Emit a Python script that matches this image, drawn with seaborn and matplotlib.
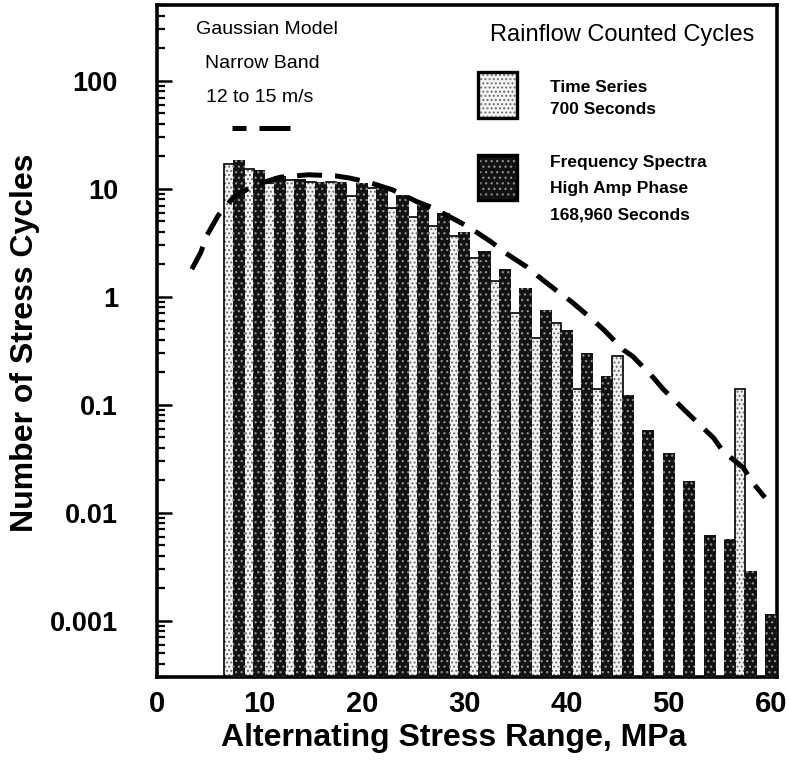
import numpy as np
import pandas as pd
import matplotlib
matplotlib.use("Agg")
import matplotlib.pyplot as plt
import seaborn as sns
from matplotlib.patches import Rectangle

# ---------------- data ----------------
stress_bins = [8, 10, 12, 14, 16, 18, 20, 22, 24, 26, 28, 30, 32, 34,
               36, 38, 40, 42, 44, 46, 48, 50, 52, 54, 56, 58, 60]
time_series_cycles = [17.0, 15.2, 11.3, 12.1, 11.5, 11.6, 8.6, 10.1, 6.6, 5.5,
                      4.5, 3.67, 2.28, 1.41, 0.706, 0.414, 0.57, 0.14, 0.14, 0.28,
                      0, 0, 0, 0, 0, 0.14, 0]
freq_spectra_cycles = [18.6, 14.8, 13.2, 12.3, 11.5, 11.5, 11.3, 10.4, 8.8, 7.1,
                       6.0, 4.0, 2.67, 1.80, 1.20, 0.758, 0.494, 0.301, 0.186, 0.124,
                       0.0587, 0.0357, 0.0197, 0.00625, 0.0057, 0.0029, 0.00114]
model_stress = [3.4, 4.3, 4.8, 6.0, 7.5, 9.5, 12.0, 14.8, 17.4, 18.8, 20.8, 23.0,
                25.4, 26.9, 29.1, 30.5, 32.7, 33.9, 36.1, 37.2, 39.3, 40.5, 42.6,
                43.7, 45.6, 46.5, 48.5, 49.5, 51.5, 52.7, 54.4, 55.3, 57.3, 58.2, 59.4]
model_cycles = [1.8, 2.6, 3.6, 5.7, 8.4, 10.8, 12.8, 13.5, 13.2, 12.6, 11.4, 9.8,
                7.6, 6.7, 5.2, 4.4, 3.2, 2.6, 1.9, 1.56, 1.09, 0.90, 0.61,
                0.49, 0.32, 0.28, 0.178, 0.138, 0.09, 0.070, 0.049, 0.037, 0.026, 0.019, 0.0138]
x_ticks = [0, 10, 20, 30, 40, 50, 60]
y_ticks = [0.001, 0.01, 0.1, 1, 10, 100]
y_tick_labels = ["0.001", "0.01", "0.1", "1", "10", "100"]

# ---------------- style ----------------
sns.set_theme(style="white")
plt.rcParams["font.family"] = ["Liberation Sans", "DejaVu Sans"]
plt.rcParams["hatch.linewidth"] = 0.9

W, H = 790, 778
fig = plt.figure(figsize=(W / 100, H / 100), dpi=100)
L, R, T, B = 157, 777, 5, 677
ax = fig.add_axes([L / W, 1 - B / H, (R - L) / W, (B - T) / H])
ax.set_yscale("log")

# time series bars (light stipple), left of each bin
df_ts = pd.DataFrame({"stress": stress_bins, "cycles": time_series_cycles})
df_ts = df_ts[df_ts["cycles"] > 0].copy()
df_ts["pos"] = df_ts["stress"] - 1.0

n0 = len(ax.patches)
sns.barplot(data=df_ts, x="pos", y="cycles", native_scale=True, width=0.5,
            color="#f3f3f3", ax=ax, errorbar=None, zorder=2)
for p in ax.patches[n0:]:
    p.set_hatch("....")
    p.set_edgecolor("#6a6a6a")
    p.set_linewidth(0)
    p.set_facecolor("#f3f3f3")
n1 = len(ax.patches)
sns.barplot(data=df_ts, x="pos", y="cycles", native_scale=True, width=0.5,
            fill=False, color="black", ax=ax, errorbar=None, zorder=2.1)
for p in ax.patches[n1:]:
    p.set_edgecolor("black")
    p.set_linewidth(1.2)
    p.set_facecolor("none")

# frequency spectra bars (dark stipple)
df_fs = pd.DataFrame({"stress": stress_bins, "cycles": freq_spectra_cycles})
df_fs = df_fs[df_fs["cycles"] > 0].copy()
df_fs["pos"] = df_fs["stress"] + 0.0
n2 = len(ax.patches)
sns.barplot(data=df_fs, x="pos", y="cycles", native_scale=True, width=0.6,
            color="#121212", ax=ax, errorbar=None, zorder=3)
for p in ax.patches[n2:]:
    p.set_hatch("...")
    p.set_edgecolor("#8c8c8c")
    p.set_linewidth(0)
    p.set_facecolor("#121212")

# Gaussian model dashed line
sns.lineplot(x=model_stress, y=model_cycles, ax=ax, color="black", lw=3.6,
             linestyle=(0, (5, 2.6)), zorder=5, estimator=None, sort=False)

ax.set_xlim(0.39, 60.58)
ax.set_ylim(3.0e-4, 505)

ax.set_xticks(x_ticks)
ax.set_xticklabels([str(t) for t in x_ticks])
ax.set_yticks(y_ticks)
ax.set_yticklabels(y_tick_labels)
ax.yaxis.set_minor_locator(matplotlib.ticker.LogLocator(base=10, subs=np.arange(2, 10), numticks=20))
ax.yaxis.set_minor_formatter(matplotlib.ticker.NullFormatter())

ax.tick_params(axis="y", which="major", direction="in", length=10.5, width=1.8,
               labelsize=19.5, pad=28, color="black", labelcolor="black", left=True)
ax.tick_params(axis="y", which="minor", direction="in", length=5.5, width=1.6,
               color="black", left=True)
ax.tick_params(axis="x", which="both", length=0, labelsize=21, pad=9, labelcolor="black")
for lab in ax.get_xticklabels() + ax.get_yticklabels():
    lab.set_fontweight("bold")

for s in ax.spines.values():
    s.set_visible(True)
    s.set_color("black")
    s.set_linewidth(2.6)

ax.set_xlabel("Alternating Stress Range, MPa", fontsize=23, fontweight="bold", color="black")
ax.set_ylabel("Number of Stress Cycles", fontsize=23, fontweight="bold", color="black")
ax.xaxis.set_label_coords((454 - L) / (R - L), (B - 723) / (B - T))
ax.yaxis.set_label_coords((40 - L) / (R - L), 0.497)

# ---------------- annotations / legend ----------------
def fx(px):
    return (px - L) / (R - L)

def fy(py):
    return (B - py) / (B - T)

tk = dict(transform=ax.transAxes, color="black", zorder=6)
ax.text(fx(267), fy(30), "Gaussian Model", ha="center", va="center", fontsize=14, **tk)
ax.text(fx(262), fy(63), "Narrow Band", ha="center", va="center", fontsize=14, **tk)
ax.text(fx(260), fy(98), "12 to 15 m/s", ha="center", va="center", fontsize=14, **tk)
ax.plot([fx(232), fx(246)], [fy(128), fy(128)], transform=ax.transAxes, color="black",
        lw=3.6, solid_capstyle="butt", zorder=6)
ax.plot([fx(259), fx(290)], [fy(128), fy(128)], transform=ax.transAxes, color="black",
        lw=3.6, solid_capstyle="butt", zorder=6)

ax.text(fx(622), fy(35), "Rainflow Counted Cycles", ha="center", va="center", fontsize=17, **tk)

ax.add_patch(Rectangle((fx(478), fy(118)), fx(517) - fx(478), fy(72) - fy(118),
                       transform=ax.transAxes, facecolor="#f3f3f3", hatch="....",
                       edgecolor="#6a6a6a", linewidth=0, zorder=6))
ax.add_patch(Rectangle((fx(478), fy(118)), fx(517) - fx(478), fy(72) - fy(118),
                       transform=ax.transAxes, facecolor="none",
                       edgecolor="black", linewidth=2.4, zorder=7))
ax.add_patch(Rectangle((fx(478), fy(200)), fx(517) - fx(478), fy(155) - fy(200),
                       transform=ax.transAxes, facecolor="#121212", hatch="...",
                       edgecolor="#8c8c8c", linewidth=0, zorder=6))
ax.add_patch(Rectangle((fx(478), fy(200)), fx(517) - fx(478), fy(155) - fy(200),
                       transform=ax.transAxes, facecolor="none",
                       edgecolor="black", linewidth=2.4, zorder=7))

lk = dict(ha="left", va="center", fontsize=12.5, fontweight="bold", **tk)
ax.text(fx(550), fy(88), "Time Series", **lk)
ax.text(fx(550), fy(110), "700 Seconds", **lk)
ax.text(fx(550), fy(162), "Frequency Spectra", **lk)
ax.text(fx(550), fy(188), "High Amp Phase", **lk)
ax.text(fx(550), fy(215), "168,960 Seconds", **lk)

fig.savefig("out.png", dpi=100, facecolor="white")
